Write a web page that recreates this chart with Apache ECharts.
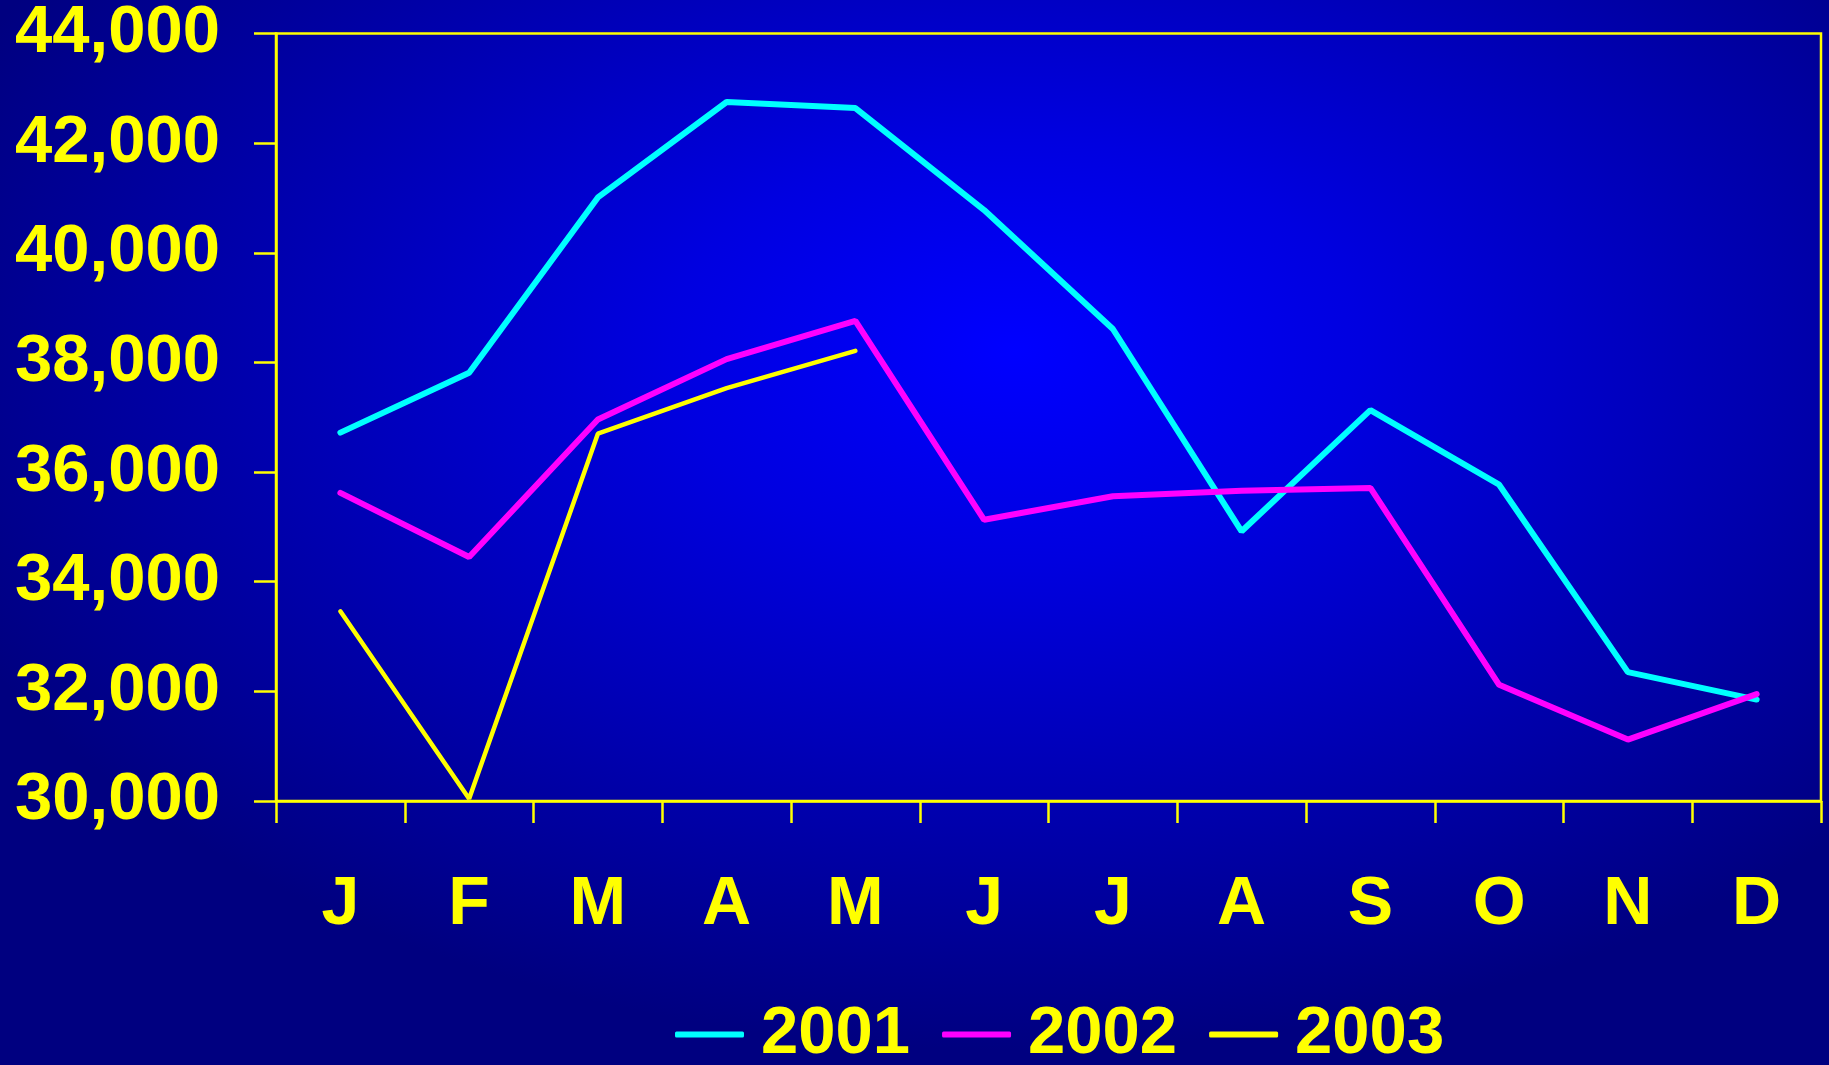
<!DOCTYPE html>
<html>
<head>
<meta charset="utf-8">
<title>Monthly totals 2001-2003</title>
<script src="https://cdn.jsdelivr.net/npm/echarts@6/dist/echarts.min.js"></script>
<style>
  html, body { margin: 0; padding: 0; }
  body {
    width: 1829px;
    height: 1065px;
    overflow: hidden;
    background: radial-gradient(ellipse 1150px 700px at 1015px 350px, #0000ff 0%, #0000e0 30%, #000080 100%);
  }
  #lineChart { width: 1829px; height: 1065px; }
</style>
</head>
<body>
<section id="lineChart"></section>
<script>
const months = ['J', 'F', 'M', 'A', 'M', 'J', 'J', 'A', 'S', 'O', 'N', 'D']
const years = ['2001', '2002', '2003']

const values2001 = [36720, 37810, 41010, 42750, 42640, 40780, 38610, 34920, 37130, 35770, 32350, 31850]
const values2002 = [35620, 34450, 36960, 38060, 38760, 35130, 35560, 35660, 35710, 32120, 31120, 31950]
const values2003 = [33460, 30040, 36700, 37530, 38210]

const yMin = 30000
const yMax = 44000
const yStep = 2000

const yellow = '#ffff00'
const labelFont = "'Liberation Sans', Arial, Helvetica, sans-serif"

const lineChart = echarts.init(document.querySelector('#lineChart'))

const makeSeries = (name, data, color, width) => ({
  name,
  type: 'line',
  data,
  symbol: 'none',
  color,
  lineStyle: { color, width, cap: 'round' },
})

const option = {
  backgroundColor: 'transparent',
  animation: false,
  grid: {
    left: 276,
    top: 32,
    right: 8,
    bottom: 264,
    show: true,
    borderColor: yellow,
    borderWidth: 2.5,
    backgroundColor: 'transparent',
  },
  legend: {
    data: years,
    left: 670,
    top: 996,
    icon: 'roundRect',
    itemWidth: 69,
    itemHeight: 6,
    itemGap: 32,
    textStyle: {
      color: yellow,
      fontSize: 67,
      fontWeight: 'bold',
      fontFamily: labelFont,
      padding: [0, 0, 0, 12],
    },
  },
  xAxis: {
    type: 'category',
    data: months,
    boundaryGap: true,
    axisLine: { lineStyle: { color: yellow, width: 2.5 } },
    axisTick: { show: true, length: 22, interval: 0, lineStyle: { color: yellow, width: 2.5 } },
    axisLabel: {
      interval: 0,
      color: yellow,
      fontSize: 68,
      fontWeight: 'bold',
      fontFamily: labelFont,
      margin: 70,
    },
    splitLine: { show: false },
  },
  yAxis: {
    type: 'value',
    min: yMin,
    max: yMax,
    interval: yStep,
    axisLine: { show: true, lineStyle: { color: yellow, width: 2.5 } },
    axisTick: { show: true, length: 22, lineStyle: { color: yellow, width: 2.5 } },
    axisLabel: {
      color: yellow,
      fontSize: 67,
      fontWeight: 'bold',
      fontFamily: labelFont,
      margin: 56,
      formatter: (v) => v.toLocaleString('en-US'),
    },
    splitLine: { show: false },
  },
  series: [
    makeSeries(years[0], values2001, '#00ffff', 6),
    makeSeries(years[1], values2002, '#ff00ff', 6),
    makeSeries(years[2], values2003, yellow, 4.5),
  ],
}

lineChart.setOption(option)
</script>
</body>
</html>
